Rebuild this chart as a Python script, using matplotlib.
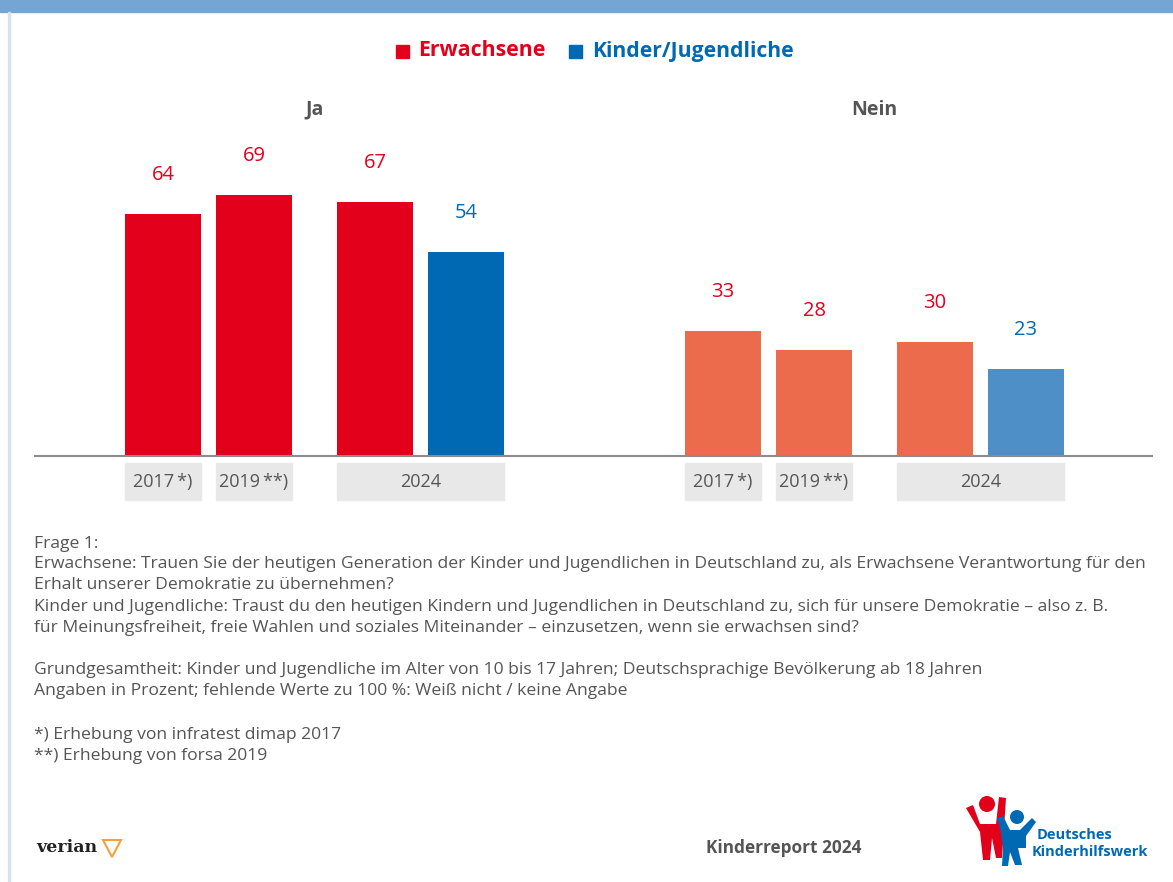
import numpy as np
import matplotlib
matplotlib.use("Agg")
import matplotlib.pyplot as plt
from matplotlib.patches import Rectangle, Polygon, Ellipse

plt.rcParams['font.family'] = ['Open Sans', 'DejaVu Sans']

# data
groups = ["Ja", "Nein"]
years = ["2017\u2009*)", "2019\u2009**)", "2024"]
adults = {"Ja": [64, 69, 67], "Nein": [33, 28, 30]}
kids = {"Ja": 54, "Nein": 23}

RED = "#E2001A"
BLUE = "#0069B4"
ORANGE = "#EC6B4D"
LBLUE = "#4F8FC8"
GREY = "#555555"
BOX = "#E8E8E8"

W, H = 1173, 882
fig = plt.figure(figsize=(W / 100, H / 100), dpi=100)


def fx(px):
    return px / W


def fy(py):
    return 1 - py / H


# frame decoration
fig.patches.append(Rectangle((0, fy(12)), 1, 12 / H, transform=fig.transFigure,
                             color="#75A5D3", zorder=0))
fig.patches.append(Rectangle((fx(8), 0), 2 / W, fy(12), transform=fig.transFigure,
                             color="#D8E2EF", zorder=0))

# axes: baseline at y=456px, 1 unit ~ 3.785 px
ax_left, ax_right = 34, 1153
ax_bot, ax_top = 501.4, 130.5
ax = fig.add_axes([fx(ax_left), fy(ax_bot), (ax_right - ax_left) / W,
                   (ax_bot - ax_top) / H])
ax.set_xlim(ax_left, ax_right)
ax.set_ylim(-12, 86)
ax.axis("off")

bw = 76
pitch = 91
slots = [0, pitch, pitch + 121, 2 * pitch + 121]
group_x0 = {"Ja": 125, "Nein": 685}

for g in groups:
    x0 = group_x0[g]
    a_col = RED if g == "Ja" else ORANGE
    k_col = BLUE if g == "Ja" else LBLUE
    xs = [x0 + s for s in slots]
    vals = adults[g] + [kids[g]]
    cols = [a_col] * 3 + [k_col]
    ax.bar(xs, vals, width=bw, align="edge", color=cols, zorder=2)
    for x, v, i in zip(xs, vals, range(4)):
        ax.text(x + bw / 2, v + 10.3, str(v), ha="center", va="center",
                fontsize=14.5, color=BLUE if i == 3 else RED)
    # category boxes
    box_specs = [(xs[0], bw, years[0]), (xs[1], bw, years[1]),
                 (xs[2], xs[3] + bw - xs[2], years[2])]
    for bx, bwid, lab in box_specs:
        ax.add_patch(Rectangle((bx, -11.6), bwid, 9.75, color=BOX,
                               clip_on=False, zorder=1))
        ax.text(bx + bwid / 2, -7.0, lab, ha="center", va="center",
                fontsize=13, color=GREY)
    ax.text((xs[0] + xs[3] + bw) / 2, 91.5, g, ha="center", va="center",
            fontsize=14, fontweight="bold", color=GREY, clip_on=False)

ax.axhline(0, color="#8C8C8C", lw=1.5, zorder=3)

# legend
fig.patches.append(Rectangle((fx(396), fy(58)), 13 / W, 13 / H,
                             transform=fig.transFigure, color=RED))
fig.text(fx(418), fy(51), "Erwachsene", color=RED, fontsize=15.3,
         fontweight="bold", va="center")
fig.patches.append(Rectangle((fx(569), fy(58)), 13 / W, 13 / H,
                             transform=fig.transFigure, color=BLUE))
fig.text(fx(592), fy(51), "Kinder/Jugendliche", color=BLUE, fontsize=15.2,
         fontweight="bold", va="center")

# notes
notes = [
    (544, "Frage 1:"),
    (564, "Erwachsene: Trauen Sie der heutigen Generation der Kinder und Jugendlichen in Deutschland zu, als Erwachsene Verantwortung für den"),
    (585, "Erhalt unserer Demokratie zu übernehmen?"),
    (607, "Kinder und Jugendliche: Traust du den heutigen Kindern und Jugendlichen in Deutschland zu, sich für unsere Demokratie – also z. B."),
    (628, "für Meinungsfreiheit, freie Wahlen und soziales Miteinander – einzusetzen, wenn sie erwachsen sind?"),
    (670, "Grundgesamtheit: Kinder und Jugendliche im Alter von 10 bis 17 Jahren; Deutschsprachige Bevölkerung ab 18 Jahren"),
    (691, "Angaben in Prozent; fehlende Werte zu 100 %: Weiß nicht / keine Angabe"),
    (735, "*) Erhebung von infratest dimap 2017"),
    (756, "**) Erhebung von forsa 2019"),
]
for py, t in notes:
    fig.text(fx(34), fy(py), t, fontsize=12.6, color=GREY, va="center")

# footer
fig.text(fx(36), fy(848), "verian", family="DejaVu Serif", fontsize=12.5,
         fontweight="bold", color="#222222", va="center")
fig.patches.append(Polygon([(fx(103), fy(840)), (fx(121), fy(840)), (fx(112), fy(857))],
                           closed=True, transform=fig.transFigure, fill=False,
                           ec="#F5A03A", lw=1.5))
fig.text(fx(706), fy(848), "Kinderreport 2024", fontsize=12.4,
         fontweight="bold", color=GREY, va="center")


# Deutsches Kinderhilfswerk logo (simplified)
def poly(pts, col):
    fig.patches.append(Polygon([(fx(x), fy(y)) for x, y in pts], closed=True,
                               transform=fig.transFigure, color=col, lw=0))


def head(cx, cy, r, col):
    fig.patches.append(Ellipse((fx(cx), fy(cy)), 2 * r / W, 2 * r / H,
                               transform=fig.transFigure, color=col, lw=0))


poly([(966, 808), (973, 805), (980, 824), (996, 824), (999, 797), (1006, 798),
      (1002, 858), (996, 858), (992, 838), (990, 860), (983, 860), (980, 832)], RED)
head(987, 804, 8, RED)
poly([(997, 818), (1003, 816), (1010, 830), (1020, 830), (1032, 818), (1036, 822),
      (1026, 836), (1026, 848), (1018, 848), (1022, 865), (1015, 865), (1010, 852),
      (1008, 866), (1002, 866), (1003, 848), (1001, 832)], BLUE)
head(1017, 817, 7, BLUE)
fig.text(fx(1037), fy(835), "Deutsches", fontsize=10.5, fontweight="bold",
         color=BLUE, va="center")
fig.text(fx(1032), fy(852), "Kinderhilfswerk", fontsize=10.5, fontweight="bold",
         color=BLUE, va="center")

fig.savefig("out.png", dpi=100)
